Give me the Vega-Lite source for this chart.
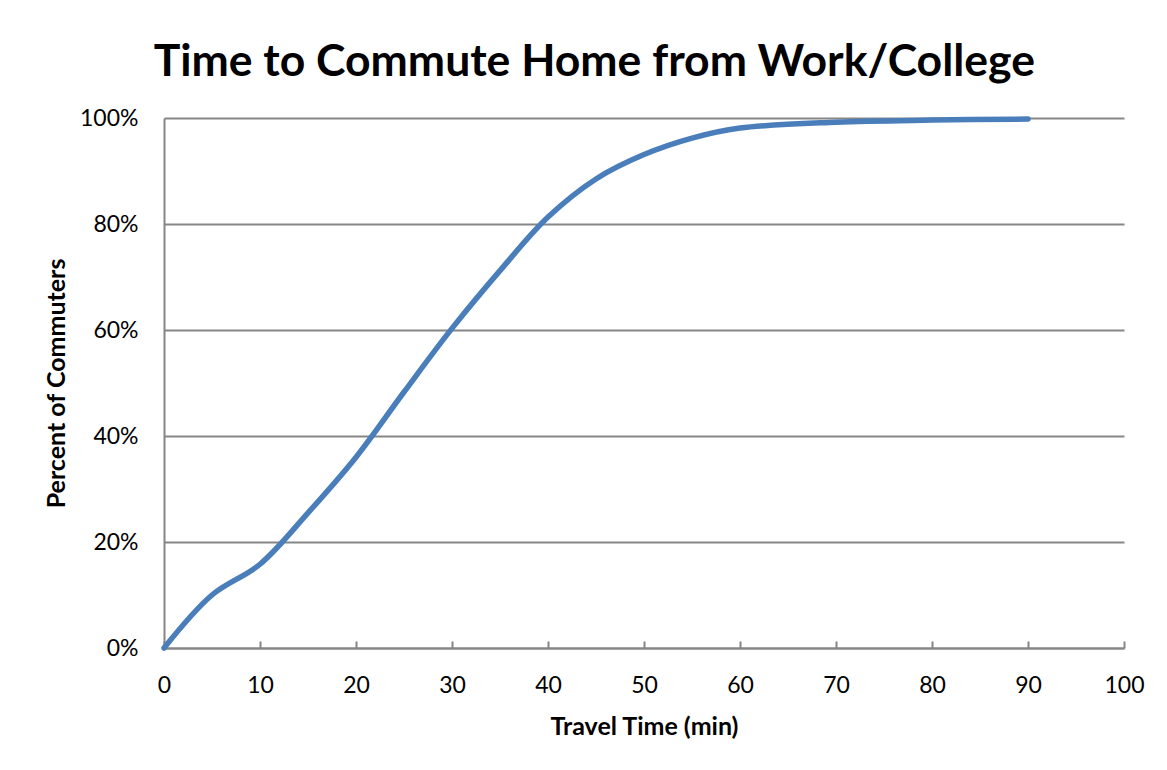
{
  "$schema": "https://vega.github.io/schema/vega-lite/v6.json",
  "width": 960,
  "height": 530,
  "autosize": {"type": "none"},
  "padding": {"left": 164, "top": 118, "right": 43, "bottom": 122},
  "background": "white",
  "title": {
    "text": "Time to Commute Home from Work/College",
    "font": "Lato",
    "fontSize": 44.5,
    "fontWeight": "bold",
    "color": "#000000",
    "anchor": "middle",
    "frame": "bounds",
    "offset": 22
  },
  "data": {
    "values": [
      {"time": 0, "pct": 0},
      {"time": 5, "pct": 0.100},
      {"time": 10, "pct": 0.158},
      {"time": 15, "pct": 0.255},
      {"time": 20, "pct": 0.360},
      {"time": 25, "pct": 0.483},
      {"time": 30, "pct": 0.603},
      {"time": 35, "pct": 0.712},
      {"time": 40, "pct": 0.813},
      {"time": 45, "pct": 0.885},
      {"time": 50, "pct": 0.931},
      {"time": 55, "pct": 0.962},
      {"time": 60, "pct": 0.981},
      {"time": 70, "pct": 0.992},
      {"time": 80, "pct": 0.996},
      {"time": 90, "pct": 0.998}
    ]
  },
  "mark": {"type": "line", "interpolate": "catmull-rom", "color": "#4a7ebb", "strokeWidth": 5.5, "strokeCap": "round"},
  "encoding": {
    "x": {
      "field": "time",
      "type": "quantitative",
      "scale": {"domain": [0, 100], "nice": false},
      "axis": {
        "title": "Travel Time (min)",
        "values": [0, 10, 20, 30, 40, 50, 60, 70, 80, 90, 100],
        "grid": false,
        "labelFlush": false,
        "tickSize": -7,
        "tickColor": "#868686",
        "tickWidth": 2,
        "domainColor": "#868686",
        "domainWidth": 2,
        "labelPadding": 33,
        "labelFont": "Lato",
        "labelFontSize": 23,
        "labelColor": "#000000",
        "titleFont": "Lato",
        "titleFontSize": 25,
        "titleFontWeight": "bold",
        "titleColor": "#000000",
        "titlePadding": 17
      }
    },
    "y": {
      "field": "pct",
      "type": "quantitative",
      "scale": {"domain": [0, 1], "nice": false},
      "axis": {
        "title": "Percent of Commuters",
        "format": ".0%",
        "values": [0, 0.2, 0.4, 0.6, 0.8, 1],
        "grid": true,
        "gridColor": "#868686",
        "gridWidth": 2,
        "ticks": false,
        "domainColor": "#868686",
        "domainWidth": 2,
        "labelPadding": 26,
        "labelFont": "Lato",
        "labelFontSize": 23,
        "labelColor": "#000000",
        "titleFont": "Lato",
        "titleFontSize": 25,
        "titleFontWeight": "bold",
        "titleColor": "#000000",
        "titlePadding": 10
      }
    }
  },
  "config": {
    "view": {"stroke": null}
  }
}
